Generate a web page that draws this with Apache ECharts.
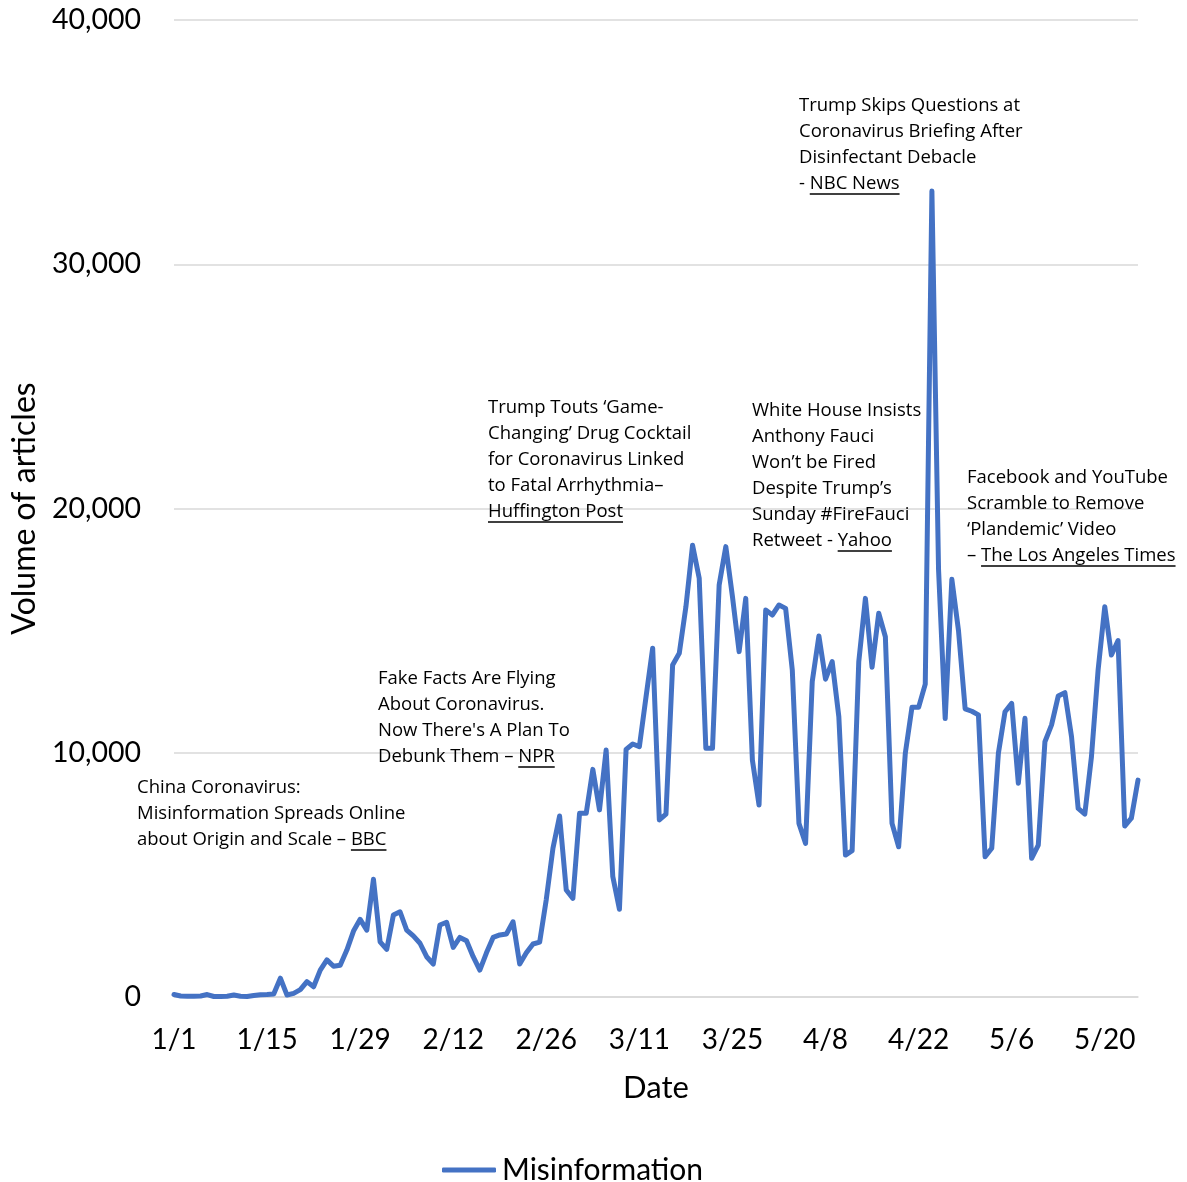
<!DOCTYPE html>
<html><head><meta charset="utf-8">
<script src="https://cdn.jsdelivr.net/npm/echarts@6/dist/echarts.min.js"></script>
<style>html,body{margin:0;padding:0;background:#fff}#c{width:1187px;height:1182px}</style>
</head><body><div id="c"></div>
<script>
// ---- DATA ----
const seriesName = 'Misinformation';
const monthLengths = [31, 29, 31, 30, 31]; // Jan..May 2020
const firstDay = { month: 1, day: 1 };
const dayCount = 146; // 1/1 .. 5/25
const tickLabels = ['1/1','1/15','1/29','2/12','2/26','3/11','3/25','4/8','4/22','5/6','5/20'];
const yTicks = [0, 10000, 20000, 30000, 40000];
const misinformation = [
  100, 40, 30, 30, 40, 100, 20, 20, 30, 80,
  30, 20, 60, 90, 100, 120, 770, 80, 150, 300,
  630, 420, 1100, 1520, 1260, 1300, 1920, 2700, 3180, 2740,
  4820, 2260, 1950, 3360, 3490, 2740, 2500, 2200, 1650, 1350,
  2950, 3060, 2030, 2440, 2300, 1650, 1100, 1810, 2440, 2540,
  2580, 3080, 1350, 1810, 2170, 2250, 4000, 6090, 7410, 4380,
  4040, 7520, 7520, 9320, 7660, 10110, 4930, 3590, 10140, 10360,
  10250, 12290, 14280, 7250, 7490, 13590, 14070, 15980, 18500, 17140,
  10180, 10180, 16870, 18440, 16390, 14140, 16320, 9700, 7860, 15840,
  15640, 16050, 15910, 13390, 7110, 6290, 12910, 14780, 13010, 13730,
  11480, 5810, 5990, 13730, 16320, 13500, 15710, 14750, 7110, 6150,
  9980, 11860, 11860, 12810, 33000, 17500, 11400, 17100, 15000, 11800,
  11700, 11550, 5740, 6090, 9980, 11680, 12020, 8750, 11410, 5680,
  6220, 10450, 11140, 12320, 12460, 10660, 7720, 7490, 9840, 13390,
  15980, 14000, 14590, 7000, 7320, 8880
];
const annotations = [
  { lines: ['China Coronavirus:', 'Misinformation Spreads Online', 'about Origin and Scale \u2013 BBC'], underline: 'BBC' },
  { lines: ['Fake Facts Are Flying', 'About Coronavirus.', "Now There's A Plan To", 'Debunk Them \u2013 NPR'], underline: 'NPR' },
  { lines: ['Trump Touts \u2018Game-', 'Changing\u2019 Drug Cocktail', 'for Coronavirus Linked', 'to Fatal Arrhythmia\u2013', 'Huffington Post'], underline: 'Huffington Post' },
  { lines: ['White House Insists', 'Anthony Fauci', 'Won\u2019t be Fired', 'Despite Trump\u2019s', 'Sunday #FireFauci', 'Retweet - Yahoo'], underline: 'Yahoo' },
  { lines: ['Trump Skips Questions at', 'Coronavirus Briefing After', 'Disinfectant Debacle', '- NBC News'], underline: 'NBC News' },
  { lines: ['Facebook and YouTube', 'Scramble to Remove', '\u2018Plandemic\u2019 Video', '\u2013 The Los Angeles Times'], underline: 'The Los Angeles Times' }
];

// ---- LAYOUT ----
const annoPos = [ [137, 775], [378, 666], [488, 395], [752, 398], [799, 93], [967, 465] ];
const annoFont = '18.5px "Open Sans"';
const annoLH = 26;

// build categories
const categories = [];
(function(){
  let m = firstDay.month, d = firstDay.day;
  for (let i = 0; i < dayCount; i++) {
    categories.push(m + '/' + d);
    d++; if (d > monthLengths[m - 1]) { d = 1; m++; }
  }
})();

const chart = echarts.init(document.getElementById('c'), null, { renderer: 'canvas' });
const ctx = document.createElement('canvas').getContext('2d');
ctx.font = annoFont;
const graphics = [];
annotations.forEach((a, i) => {
  const [x, y] = annoPos[i];
  graphics.push({ type: 'text', left: x, top: y, z: 10,
    style: { text: a.lines.join('\n'), font: annoFont, lineHeight: annoLH, fill: '#000' } });
  const li = a.lines.findIndex(l => l.indexOf(a.underline) >= 0);
  const line = a.lines[li];
  const pre = line.slice(0, line.indexOf(a.underline));
  const x0 = x + ctx.measureText(pre).width;
  const x1 = x0 + ctx.measureText(a.underline).width;
  const uy = y + li * annoLH + annoLH / 2 + 10;
  graphics.push({ type: 'line', z: 10, shape: { x1: x0, y1: uy, x2: x1, y2: uy }, style: { stroke: '#000', lineWidth: 1.3 } });
});

chart.setOption({
  animation: false,
  textStyle: { fontFamily: 'Lato' },
  grid: { left: 174, right: 49, top: 20, bottom: 185, containLabel: false },
  legend: {
    data: [{ name: seriesName, icon: 'roundRect' }], left: 437, top: 1150, itemWidth: 54, itemHeight: 5,
    itemStyle: { color: '#4472C4' },
    textStyle: { fontSize: 30, color: '#000', fontFamily: 'Lato', padding: [0, 0, 0, 1] }, itemGap: 10
  },
  xAxis: {
    type: 'category', data: categories, boundaryGap: false,
    name: 'Date', nameLocation: 'middle', nameGap: 75,
    nameTextStyle: { fontSize: 31, color: '#000', fontFamily: 'Lato' },
    axisLine: { lineStyle: { color: '#d9d9d9', width: 1.5 } },
    axisTick: { show: false },
    axisLabel: { interval: (idx, val) => tickLabels.indexOf(val) >= 0, fontSize: 28, color: '#000', margin: 29, fontFamily: 'Lato' },
    splitLine: { show: false }
  },
  yAxis: {
    type: 'value', min: yTicks[0], max: yTicks[yTicks.length - 1], interval: 10000,
    name: 'Volume of articles', nameLocation: 'middle', nameGap: 131,
    nameTextStyle: { fontSize: 32, color: '#000', fontFamily: 'Lato' },
    axisLine: { show: false }, axisTick: { show: false },
    axisLabel: { fontSize: 28.5, color: '#000', margin: 33, fontFamily: 'Lato', formatter: v => v.toLocaleString('en-US') },
    splitLine: { lineStyle: { color: '#d9d9d9', width: 1.5 } }
  },
  series: [{
    name: seriesName, type: 'line', data: misinformation, symbol: 'none',
    lineStyle: { color: '#4472C4', width: 5, join: 'round', cap: 'round' }, itemStyle: { color: '#4472C4' }
  }],
  graphic: graphics
});
</script>
</body></html>
